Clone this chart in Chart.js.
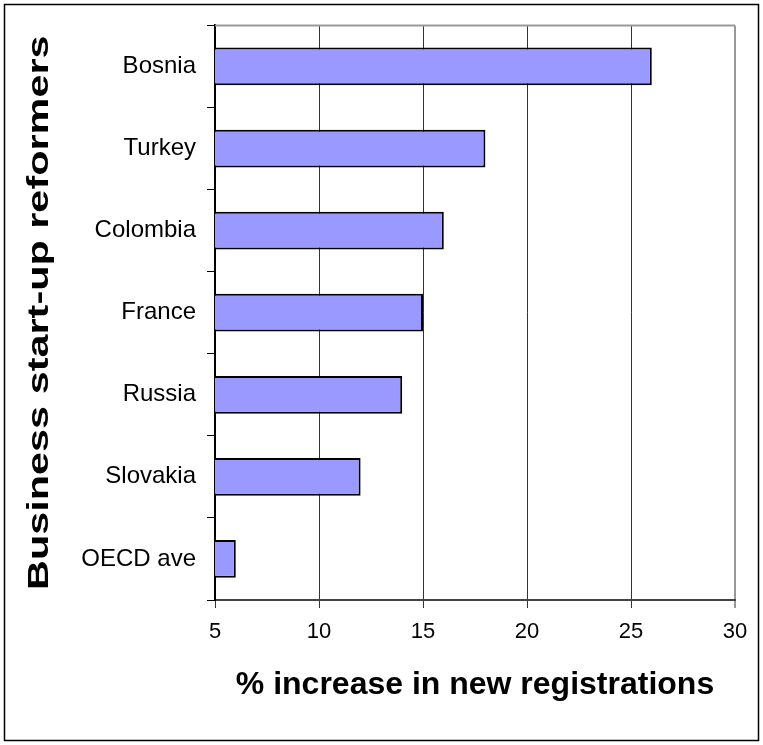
<!DOCTYPE html>
<html lang="en">

<head>
    <meta charset="UTF-8">
    <script src="https://cdn.jsdelivr.net/npm/chart.js"></script>
    <title>Business start-up reformers</title>
    <style>
        body { margin: 0; background: #fff; }
    </style>
</head>

<body>
    <div class="chart-container" style="position: relative; width:763px; height:745px;">
        <canvas id="myChart"></canvas>
    </div>
    <script>
        // data
        const countries = ['Bosnia', 'Turkey', 'Colombia', 'France', 'Russia', 'Slovakia', 'OECD ave'];
        const increase = [26, 18, 16, 15, 14, 12, 6];
        const xTicks = [5, 10, 15, 20, 25, 30];
        const yTitle = 'Business start-up reformers';

        // outer frame, top edge of the plot, and the (stretched) y title
        const framePlugin = {
            id: 'frame',
            afterDraw(chart) {
                const ctx = chart.ctx;
                const a = chart.chartArea;
                ctx.save();
                ctx.strokeStyle = '#999';
                ctx.lineWidth = 2;
                ctx.beginPath();
                ctx.moveTo(a.left, a.top);
                ctx.lineTo(a.right, a.top);
                ctx.stroke();
                ctx.strokeStyle = '#000';
                ctx.lineWidth = 1.5;
                ctx.strokeRect(4.5, 4.5, 754, 736);

                // y title, long like in the original
                ctx.translate(40, (a.top + a.bottom) / 2);
                ctx.rotate(-Math.PI / 2);
                ctx.scale(1.38, 1);
                ctx.fillStyle = '#000';
                ctx.font = 'bold 30px "Liberation Sans"';
                ctx.textAlign = 'center';
                ctx.textBaseline = 'middle';
                ctx.fillText(yTitle, 0, 0);
                ctx.restore();
            }
        };

        const config = {
            type: 'bar',
            data: {
                labels: countries,
                datasets: [{
                    data: increase,
                    backgroundColor: '#9999FF',
                    borderColor: '#000',
                    borderWidth: 2,
                    borderSkipped: false,
                    categoryPercentage: 1,
                    barPercentage: 0.46
                }]
            },
            options: {
                indexAxis: 'y',
                responsive: true,
                maintainAspectRatio: false,
                animation: false,
                layout: {
                    padding: { top: 25, right: 28, bottom: 0, left: 0 }
                },
                plugins: {
                    legend: { display: false },
                    tooltip: { enabled: false }
                },
                scales: {
                    x: {
                        min: 5,
                        max: 30,
                        afterBuildTicks: (scale) => {
                            scale.ticks = xTicks.map(v => ({ value: v }));
                        },
                        afterFit: (scale) => { scale.height = 145; },
                        grid: {
                            color: (c) => c.tick && c.tick.value === 30 ? '#999' : '#333',
                            lineWidth: (c) => c.tick && c.tick.value === 30 ? 2 : 1,
                            tickLength: 8
                        },
                        border: { color: '#444', width: 2 },
                        ticks: {
                            color: '#000',
                            padding: 11,
                            font: { family: 'Liberation Sans', size: 22 }
                        },
                        title: {
                            display: true,
                            text: '% increase in new registrations',
                            color: '#000',
                            font: { family: 'Liberation Sans', size: 32, weight: 'bold' },
                            padding: { top: 0, bottom: 41 }
                        }
                    },
                    y: {
                        afterFit: (scale) => { scale.width = 215; },
                        grid: {
                            drawOnChartArea: false,
                            color: '#000',
                            tickLength: 8,
                            offset: true
                        },
                        border: { color: '#000', width: 2 },
                        ticks: {
                            color: '#000',
                            padding: 11,
                            font: { family: 'Liberation Sans', size: 24 }
                        }
                    }
                }
            },
            plugins: [framePlugin]
        };

        const myChart = new Chart(
            document.getElementById('myChart'),
            config
        );
    </script>
</body>

</html>
